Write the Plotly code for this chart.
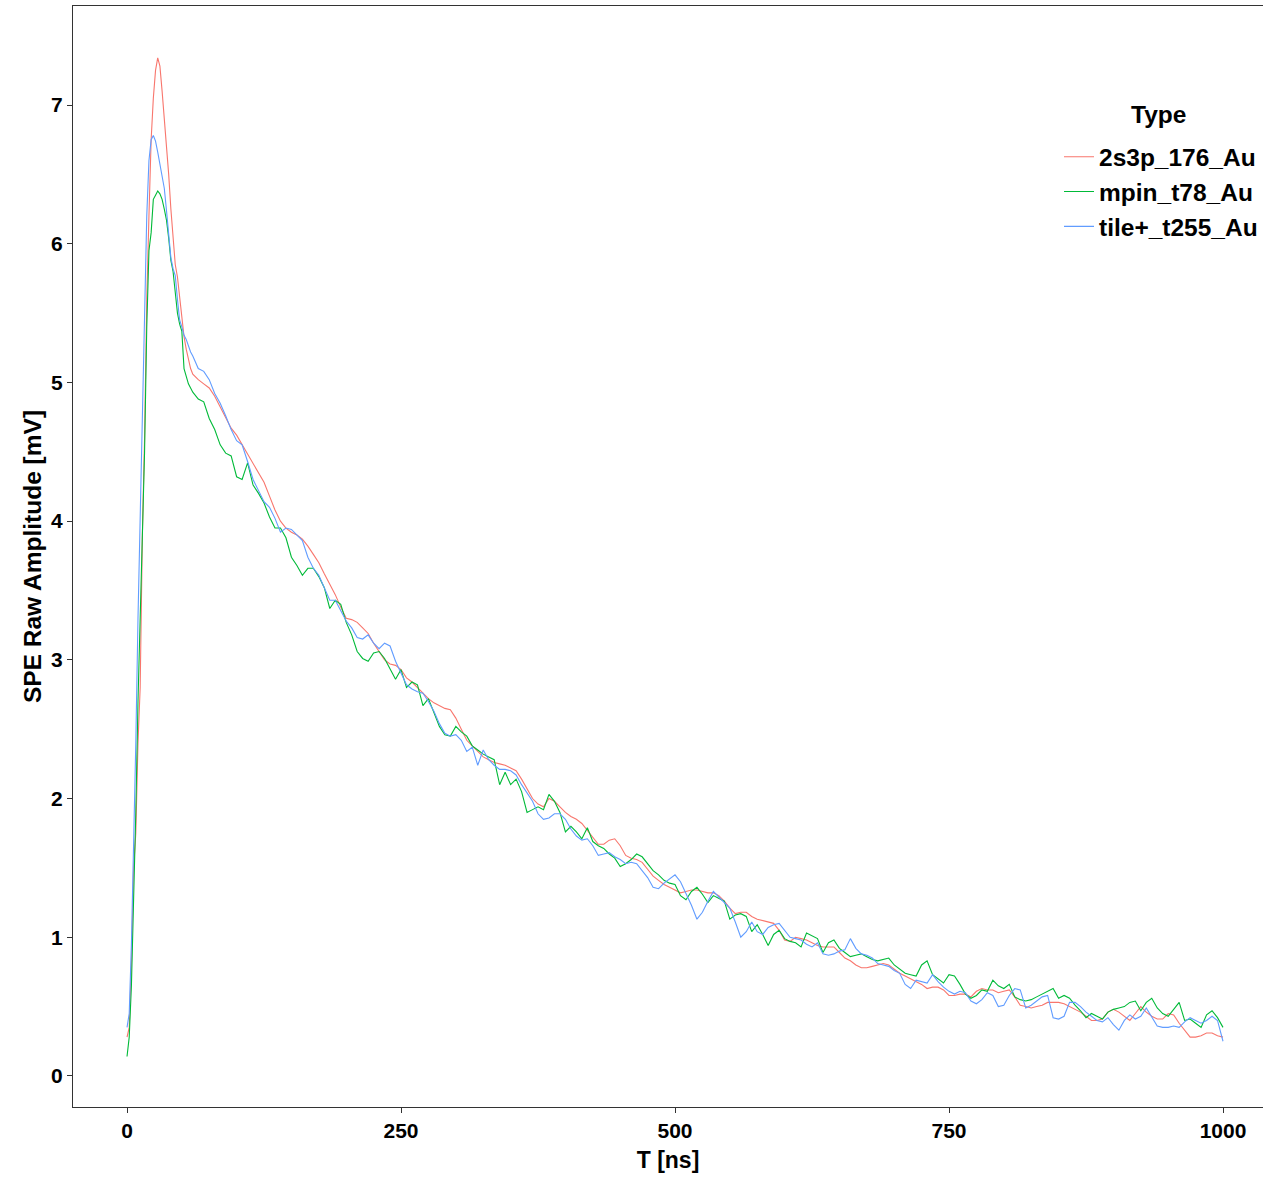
import plotly.graph_objects as go

# Time axis [ns]
TIME = [
    0, 2, 4, 6, 8, 10, 12, 14, 16, 18, 20, 22, 24, 26, 28, 30,
    32, 34, 36, 38, 40, 42, 44, 46, 48, 50, 52, 54, 56, 58, 60,
    65, 70, 75, 80, 85, 90, 95, 100, 105, 110,
    115, 120, 125, 130, 135, 140, 145, 150, 155, 160,
    165, 170, 175, 180, 185, 190, 195, 200, 205, 210,
    215, 220, 225, 230, 235, 240, 245, 250, 255, 260,
    265, 270, 275, 280, 285, 290, 295, 300, 305, 310,
    315, 320, 325, 330, 335, 340, 345, 350, 355, 360,
    365, 370, 375, 380, 385, 390, 395, 400, 405, 410,
    415, 420, 425, 430, 435, 440, 445, 450, 455, 460,
    465, 470, 475, 480, 485, 490, 495, 500, 505, 510,
    515, 520, 525, 530, 535, 540, 545, 550, 555, 560,
    565, 570, 575, 580, 585, 590, 595, 600, 605, 610,
    615, 620, 625, 630, 635, 640, 645, 650, 655, 660,
    665, 670, 675, 680, 685, 690, 695, 700, 705, 710,
    715, 720, 725, 730, 735, 740, 745, 750, 755, 760,
    765, 770, 775, 780, 785, 790, 795, 800, 805, 810,
    815, 820, 825, 830, 835, 840, 845, 850, 855, 860,
    865, 870, 875, 880, 885, 890, 895, 900, 905, 910,
    915, 920, 925, 930, 935, 940, 945, 950, 955, 960,
    965, 970, 975, 980, 985, 990, 995, 1000,
]

SERIES_NAMES = ["2s3p_176_Au", "mpin_t78_Au", "tile+_t255_Au"]
LEGEND_TITLE = "Type"

AMP_2S3P = [
    0.28, 0.35, 0.80, 1.50, 1.75, 2.40, 2.80, 3.90, 4.60, 5.60, 6.20, 6.75, 7.05, 7.25, 7.34, 7.28,
    7.10, 6.90, 6.72, 6.50, 6.25, 6.04, 5.85, 5.76, 5.60, 5.45, 5.33, 5.24, 5.16, 5.10, 5.06,
    5.02, 4.99, 4.96, 4.90, 4.82, 4.74, 4.67, 4.62, 4.55, 4.49,
    4.42, 4.35, 4.28, 4.18, 4.08, 4.00, 3.95, 3.92, 3.90, 3.87,
    3.82, 3.76, 3.70, 3.62, 3.55, 3.47, 3.38, 3.30, 3.29, 3.27,
    3.23, 3.19, 3.12, 3.06, 3.00, 2.97, 2.96, 2.93, 2.87, 2.84,
    2.80, 2.76, 2.72, 2.69, 2.67, 2.65, 2.64, 2.58, 2.50, 2.42,
    2.38, 2.34, 2.30, 2.28, 2.26, 2.25, 2.24, 2.22, 2.20, 2.14,
    2.07, 2.00, 1.96, 1.94, 2.00, 1.98, 1.94, 1.90, 1.87, 1.85,
    1.82, 1.77, 1.72, 1.67, 1.67, 1.70, 1.71, 1.66, 1.59, 1.57,
    1.56, 1.54, 1.49, 1.44, 1.41, 1.38, 1.36, 1.34, 1.32, 1.33,
    1.34, 1.34, 1.33, 1.32, 1.32, 1.30, 1.26, 1.21, 1.17, 1.18,
    1.18, 1.15, 1.13, 1.12, 1.11, 1.10, 1.05, 0.98, 0.97, 1.00,
    0.99, 0.98, 0.96, 0.94, 0.93, 0.93, 0.93, 0.89, 0.85, 0.83,
    0.80, 0.78, 0.78, 0.79, 0.80, 0.81, 0.80, 0.77, 0.74, 0.72,
    0.70, 0.68, 0.66, 0.63, 0.64, 0.64, 0.62, 0.58, 0.58, 0.59,
    0.59, 0.57, 0.61, 0.63, 0.62, 0.62, 0.60, 0.61, 0.62, 0.57,
    0.51, 0.50, 0.49, 0.50, 0.51, 0.53, 0.53, 0.53, 0.52, 0.50,
    0.48, 0.46, 0.43, 0.40, 0.40, 0.41, 0.46, 0.48, 0.46, 0.43,
    0.40, 0.45, 0.50, 0.46, 0.43, 0.41, 0.41, 0.45, 0.44, 0.38,
    0.33, 0.28, 0.28, 0.29, 0.31, 0.31, 0.29, 0.28,
]

AMP_MPIN = [
    0.14, 0.28, 0.65, 1.20, 1.90, 2.70, 3.30, 3.90, 4.50, 5.40, 5.95, 6.08, 6.32, 6.35, 6.38, 6.36,
    6.32, 6.25, 6.17, 6.04, 5.88, 5.80, 5.65, 5.50, 5.42, 5.37, 5.10, 5.04, 4.99, 4.96, 4.93,
    4.88, 4.86, 4.74, 4.66, 4.55, 4.49, 4.47, 4.32, 4.30, 4.42,
    4.26, 4.20, 4.13, 4.03, 3.95, 3.95, 3.88, 3.74, 3.68, 3.61,
    3.66, 3.66, 3.60, 3.52, 3.37, 3.43, 3.40, 3.27, 3.18, 3.06,
    3.01, 2.99, 3.05, 3.06, 3.01, 2.93, 2.86, 2.93, 2.80, 2.84,
    2.82, 2.67, 2.72, 2.62, 2.52, 2.46, 2.45, 2.52, 2.48, 2.45,
    2.38, 2.35, 2.32, 2.30, 2.28, 2.10, 2.19, 2.10, 2.14, 2.05,
    1.90, 1.92, 1.94, 1.92, 2.03, 1.98, 1.90, 1.76, 1.80, 1.76,
    1.71, 1.79, 1.69, 1.66, 1.64, 1.60, 1.57, 1.51, 1.53, 1.56,
    1.60, 1.58, 1.53, 1.48, 1.45, 1.41, 1.39, 1.38, 1.30, 1.27,
    1.33, 1.36, 1.31, 1.25, 1.30, 1.28, 1.26, 1.13, 1.16, 1.17,
    1.15, 1.04, 1.09, 1.02, 0.94, 1.02, 1.05, 0.99, 0.97, 0.96,
    0.93, 1.03, 1.01, 0.99, 0.89, 0.96, 0.98, 0.92, 0.89, 0.86,
    0.87, 0.88, 0.86, 0.84, 0.83, 0.84, 0.85, 0.80, 0.77, 0.74,
    0.73, 0.72, 0.80, 0.83, 0.73, 0.70, 0.67, 0.73, 0.72, 0.66,
    0.59, 0.56, 0.58, 0.62, 0.61, 0.69, 0.65, 0.63, 0.66, 0.57,
    0.55, 0.54, 0.55, 0.57, 0.59, 0.61, 0.63, 0.56, 0.58, 0.56,
    0.51, 0.47, 0.42, 0.45, 0.43, 0.41, 0.46, 0.48, 0.49, 0.50,
    0.53, 0.54, 0.47, 0.53, 0.56, 0.49, 0.45, 0.43, 0.48, 0.53,
    0.40, 0.41, 0.38, 0.35, 0.44, 0.47, 0.42, 0.35,
]

AMP_TILE = [
    0.35, 0.45, 0.95, 1.60, 2.40, 3.30, 4.00, 4.70, 5.50, 6.20, 6.60, 6.75, 6.78, 6.74, 6.66, 6.58,
    6.50, 6.40, 6.24, 6.05, 5.90, 5.82, 5.77, 5.60, 5.45, 5.40, 5.34, 5.31, 5.26, 5.22, 5.19,
    5.10, 5.08, 5.02, 4.92, 4.85, 4.76, 4.66, 4.58, 4.55, 4.43,
    4.30, 4.22, 4.14, 4.10, 4.02, 3.92, 3.95, 3.94, 3.90, 3.86,
    3.74, 3.66, 3.61, 3.52, 3.43, 3.43, 3.36, 3.28, 3.23, 3.16,
    3.15, 3.18, 3.12, 3.08, 3.12, 3.10, 2.99, 2.90, 2.82, 2.79,
    2.77, 2.76, 2.70, 2.63, 2.54, 2.47, 2.45, 2.46, 2.42, 2.34,
    2.37, 2.24, 2.35, 2.28, 2.24, 2.21, 2.21, 2.20, 2.17, 2.10,
    2.04, 1.98, 1.89, 1.85, 1.86, 1.89, 1.89, 1.85, 1.78, 1.73,
    1.70, 1.71, 1.66, 1.59, 1.60, 1.61, 1.58, 1.56, 1.53, 1.54,
    1.53, 1.48, 1.43, 1.36, 1.35, 1.39, 1.42, 1.45, 1.40, 1.32,
    1.23, 1.13, 1.18, 1.26, 1.33, 1.29, 1.25, 1.21, 1.11, 1.00,
    1.04, 1.11, 1.04, 1.02, 1.07, 1.09, 1.10, 1.05, 1.00, 0.99,
    0.98, 0.95, 0.93, 0.96, 0.88, 0.87, 0.88, 0.90, 0.91, 0.99,
    0.92, 0.88, 0.87, 0.85, 0.81, 0.80, 0.79, 0.76, 0.74, 0.66,
    0.63, 0.69, 0.68, 0.67, 0.73, 0.68, 0.64, 0.61, 0.59, 0.61,
    0.60, 0.54, 0.52, 0.55, 0.60, 0.58, 0.50, 0.51, 0.58, 0.63,
    0.62, 0.49, 0.51, 0.54, 0.57, 0.58, 0.42, 0.41, 0.43, 0.53,
    0.53, 0.50, 0.46, 0.43, 0.40, 0.39, 0.42, 0.37, 0.33, 0.40,
    0.44, 0.41, 0.43, 0.49, 0.42, 0.36, 0.35, 0.35, 0.36, 0.35,
    0.39, 0.42, 0.40, 0.38, 0.40, 0.43, 0.40, 0.25,
]

X_TICKS = [0, 250, 500, 750, 1000]
Y_TICKS = [0, 1, 2, 3, 4, 5, 6, 7]

COLORS = ["#F8766D", "#00BA38", "#619CFF"]
FONT = "Liberation Sans, Arial, sans-serif"

fig = go.Figure()
for name, vals, col in zip(SERIES_NAMES, [AMP_2S3P, AMP_MPIN, AMP_TILE], COLORS):
    fig.add_trace(go.Scatter(
        x=TIME, y=vals, mode="lines", name=name,
        line=dict(color=col, width=1.1),
    ))

fig.update_layout(
    width=1263, height=1177,
    margin=dict(l=73, r=0, t=6, b=70),
    paper_bgcolor="white", plot_bgcolor="white",
    font=dict(family=FONT, color="black", weight="bold"),
    showlegend=True,
    legend=dict(
        x=1.0, y=0.8835, xanchor="right", yanchor="top",
        bgcolor="rgba(0,0,0,0)",
        font=dict(family=FONT, size=24.5, color="black", weight="bold"),
        tracegroupgap=0,
    ),
    annotations=[dict(
        text=LEGEND_TITLE, xref="paper", yref="paper",
        x=0.9118, y=0.901, xanchor="center", yanchor="middle",
        showarrow=False,
        font=dict(family=FONT, size=24.5, color="black", weight="bold"),
    )],
)

fig.update_xaxes(
    range=[-49.3, 1036.5],
    tickvals=X_TICKS, ticktext=[str(v) for v in X_TICKS],
    showgrid=False, zeroline=False,
    showline=True, linecolor="#333333", linewidth=1.3, mirror=True,
    ticks="outside", ticklen=5, tickcolor="#333333", tickwidth=1.3,
    tickfont=dict(family=FONT, size=21, color="black", weight="bold"),
    title=dict(text="T [ns]", standoff=10,
               font=dict(family=FONT, size=23, color="black", weight="bold")),
)
fig.update_yaxes(
    range=[-0.224, 7.714],
    tickvals=Y_TICKS, ticktext=[str(v) for v in Y_TICKS],
    showgrid=False, zeroline=False,
    showline=True, linecolor="#333333", linewidth=1.3,
    ticks="outside", ticklen=5, tickcolor="#333333", tickwidth=1.3,
    tickfont=dict(family=FONT, size=21, color="black", weight="bold"),
    title=dict(text="SPE Raw Amplitude [mV]", standoff=2,
               font=dict(family=FONT, size=24.5, color="black", weight="bold")),
)

fig.write_html("out.html", config={"displayModeBar": False},
               post_script="document.body.style.margin='0';")
